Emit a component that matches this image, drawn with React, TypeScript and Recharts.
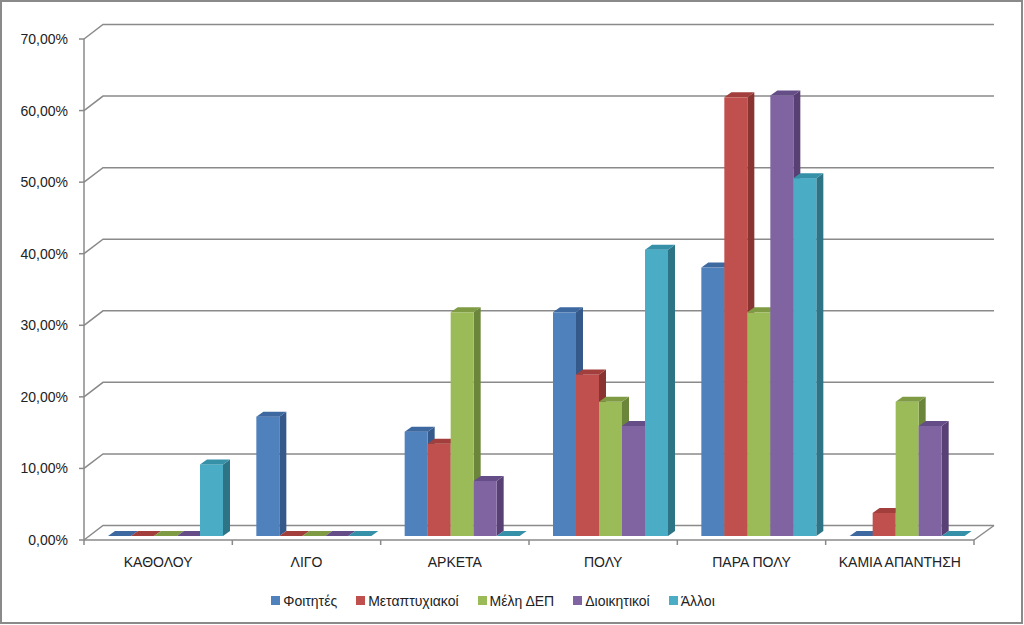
import React from 'react';
import { BarChart, Bar, XAxis, YAxis, CartesianGrid, Legend, ReferenceLine } from 'recharts';

// ---- data ----
const categories = ['ΚΑΘΟΛΟΥ', 'ΛΙΓΟ', 'ΑΡΚΕΤΑ', 'ΠΟΛΥ', 'ΠΑΡΑ ΠΟΛΥ', 'ΚΑΜΙΑ ΑΠΑΝΤΗΣΗ'];
const seriesNames = ['Φοιτητές', 'Μεταπτυχιακοί', 'Μέλη ΔΕΠ', 'Διοικητικοί', 'Άλλοι'];
const foitites = [0, 16.67, 14.58, 31.25, 37.5, 0];
const metaptyxiakoi = [0, 0, 12.9, 22.58, 61.29, 3.23];
const meliDep = [0, 0, 31.25, 18.75, 31.25, 18.75];
const dioikitikoi = [0, 0, 7.69, 15.38, 61.54, 15.38];
const alloi = [10, 0, 0, 40, 50, 0];
const yTicks = [0, 10, 20, 30, 40, 50, 60, 70];

// ---- styles ----
const palette = [
  { front: '#4F81BD', top: '#3D69A0', side: '#35598A' },
  { front: '#C0504D', top: '#A23F3C', side: '#8A3431' },
  { front: '#9BBB59', top: '#7F9C45', side: '#6B863A' },
  { front: '#8064A2', top: '#654E87', side: '#583F74' },
  { front: '#4BACC6', top: '#3590A8', side: '#2D7487' },
];
const FONT = '"Liberation Sans", Arial, sans-serif';
const GRID = '#8a8a8a';
const SHIFT_X = 7;
const SHIFT_Y = -4;
const DEPTH_X = 7;
const DEPTH_Y = -5;
const WALL_X = 19;
const WALL_Y = 14.5;

const seriesValues = [foitites, metaptyxiakoi, meliDep, dioikitikoi, alloi];
const data = categories.map((c, i) => {
  const row: any = { category: c };
  seriesValues.forEach((vals, s) => {
    row['s' + s] = vals[i];
  });
  return row;
});

const makeShape = (s: number) => (props: any) => {
  const { x, y, width, height } = props;
  if (x == null || y == null) return <g />;
  const c = palette[s];
  const fx = x + SHIFT_X;
  const fy = y + SHIFT_Y;
  const h = Math.max(0, height || 0);
  const w = width;
  const top = `${fx},${fy} ${fx + w},${fy} ${fx + w + DEPTH_X},${fy + DEPTH_Y} ${fx + DEPTH_X},${fy + DEPTH_Y}`;
  const side = `${fx + w},${fy} ${fx + w + DEPTH_X},${fy + DEPTH_Y} ${fx + w + DEPTH_X},${fy + h + DEPTH_Y} ${fx + w},${fy + h}`;
  return (
    <g>
      {h > 0 && <polygon points={side} fill={c.side} />}
      {h > 0 && <rect x={fx} y={fy} width={w} height={h} fill={c.front} />}
      <polygon points={top} fill={c.top} />
    </g>
  );
};

const gridLine = (p: any) => {
  const { x1, y1, x2 } = p;
  return (
    <path
      key={`grid-${p.index ?? y1}`}
      d={`M${x1},${y1} L${x1 + WALL_X},${y1 - WALL_Y} L${x2 + WALL_X + 1},${y1 - WALL_Y}`}
      stroke={GRID}
      strokeWidth={1.5}
      fill="none"
    />
  );
};

const floorEdge = (p: any) => {
  const { x2, y1 } = p;
  return (
    <path
      d={`M${x2},${y1} L${x2 + WALL_X + 1},${y1 - WALL_Y}`}
      stroke={GRID}
      strokeWidth={1.5}
      fill="none"
    />
  );
};

const CatTick = (p: any) => {
  const { x, y, payload, index } = p;
  const half = payload && payload.offset ? payload.offset : 74;
  const isLast = (payload?.index ?? index) === categories.length - 1;
  return (
    <g>
      <line x1={x - half} y1={y - 5} x2={x - half} y2={y} stroke={GRID} strokeWidth={1.5} />
      {isLast && <line x1={x + half} y1={y - 5} x2={x + half} y2={y} stroke={GRID} strokeWidth={1.5} />}
      <text x={x} y={y + 22} textAnchor="middle" fontFamily={FONT} fontSize={14} fill="#222">
        {payload.value}
      </text>
    </g>
  );
};

const renderLegend = (props: any) => {
  const items = [...(props.payload || [])].sort(
    (a: any, b: any) => seriesNames.indexOf(a.value) - seriesNames.indexOf(b.value)
  );
  return (
    <div
      style={{
        display: 'flex',
        justifyContent: 'center',
        alignItems: 'center',
        height: 25,
        paddingRight: 38,
        fontFamily: FONT,
        fontSize: 14,
        color: '#222',
      }}
    >
      {items.map((it: any, i: number) => (
        <div key={i} style={{ display: 'flex', alignItems: 'center', marginLeft: i ? 19 : 0 }}>
          <span style={{ display: 'inline-block', width: 9, height: 9, background: it.color, marginRight: 3 }} />
          <span>{it.value}</span>
        </div>
      ))}
    </div>
  );
};

const fmt = (v: number) => v.toFixed(2).replace('.', ',') + '%';

export default function App() {
  return (
    <div style={{ position: 'absolute', left: 0, top: 0, width: 1024, height: 625, background: '#fff' }}>
      <div
        style={{
          position: 'absolute',
          left: 0,
          top: 0,
          width: 1023,
          height: 624,
          border: '2px solid #8a8a8a',
          boxSizing: 'border-box',
        }}
      />
      <BarChart
        width={1024}
        height={625}
        data={data}
        margin={{ top: 39, right: 50, left: 0, bottom: 12 }}
        barGap={0}
        barCategoryGap={0}
      >
        <CartesianGrid vertical={false} horizontal={gridLine} />
        <XAxis
          dataKey="category"
          height={48}
          tickLine={false}
          tickSize={5}
          tickMargin={0}
          axisLine={{ stroke: GRID, strokeWidth: 1.5 }}
          tick={<CatTick />}
          interval={0}
        />
        <YAxis
          width={84}
          domain={[0, 70]}
          ticks={yTicks}
          tickFormatter={fmt}
          tickSize={5}
          tickMargin={11}
          axisLine={{ stroke: GRID, strokeWidth: 1.5 }}
          tickLine={{ stroke: GRID, strokeWidth: 1.5 }}
          tick={{ fontFamily: FONT, fontSize: 14, fill: '#222' }}
        />
        <ReferenceLine y={0} shape={floorEdge} />
        <Legend verticalAlign="bottom" content={renderLegend} wrapperStyle={{ left: 0, width: 1024 }} />
        {seriesNames.map((name, s) => (
          <Bar
            key={name}
            dataKey={'s' + s}
            name={name}
            fill={palette[s].front}
            barSize={23}
            isAnimationActive={false}
            shape={makeShape(s)}
          />
        ))}
      </BarChart>
    </div>
  );
}
